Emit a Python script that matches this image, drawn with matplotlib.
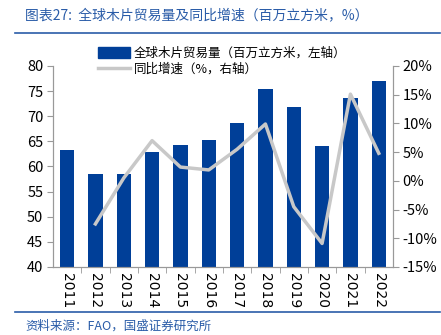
import matplotlib.pyplot as plt
from matplotlib.lines import Line2D

plt.rcParams['font.family'] = ['Noto Sans CJK SC', 'DejaVu Sans']

years = ['2011', '2012', '2013', '2014', '2015', '2016',
         '2017', '2018', '2019', '2020', '2021', '2022']
volume = [63.3, 58.5, 58.6, 62.8, 64.2, 65.3, 68.7, 75.4, 71.9, 64.1, 73.6, 77.1]
growth_years = years[1:]
growth = [-7.5, 0.5, 7.0, 2.4, 1.9, 5.5, 9.9, -4.5, -10.9, 15.1, 4.8]

bar_color = '#003F98'
line_color = '#C8C8C8'
spine_color = '#999999'
title_color = '#2A5CA8'

fig = plt.figure(figsize=(4.41, 3.35), dpi=100)
ax = fig.add_axes([0.120, 0.203, 0.771, 0.600])
ax2 = ax.twinx()

x = list(range(len(years)))
ax.bar(x, volume, width=0.5, color=bar_color, zorder=2)
gx = [years.index(y) for y in growth_years]
ax2.plot(gx, growth, color=line_color, linewidth=2.5, zorder=3)

ax.set_xlim(-0.5, len(years) - 0.5)
ax.set_ylim(40, 80)
ax.set_yticks(range(40, 81, 5))
ax2.set_ylim(-15, 20)
ax2.set_yticks(range(-15, 21, 5))
ax2.set_yticklabels([f'{v}%' for v in range(-15, 21, 5)])

ax.set_xticks(x)
ax.set_xticklabels(years, rotation=-90, fontsize=10, family='DejaVu Sans')
ax.set_xticks([i + 0.5 for i in x[:-1]], minor=True)
ax.tick_params(axis='x', which='major', length=0, pad=4)
ax.tick_params(axis='x', which='minor', length=4, color=spine_color, direction='out')
ax.tick_params(axis='y', length=4, color=spine_color, labelsize=10.5, pad=3)
ax2.tick_params(axis='y', length=4, color=spine_color, labelsize=10.5, pad=3)

for a in (ax, ax2):
    a.spines['top'].set_visible(False)
    for s in ('left', 'right', 'bottom'):
        a.spines[s].set_color(spine_color)
        a.spines[s].set_linewidth(0.8)
ax2.set_zorder(ax.get_zorder() + 1)
ax2.patch.set_visible(False)

handles = [plt.Rectangle((0, 0), 1, 1, color=bar_color),
           Line2D([0], [0], color=line_color, linewidth=2.5)]
labels = ['全球木片贸易量（百万立方米，左轴）', '同比增速（%，右轴）']
fig.legend(handles, labels, loc='upper left', bbox_to_anchor=(0.21, 0.875),
           frameon=False, fontsize=9, handlelength=2.6, handleheight=0.9,
           handletextpad=0.3, labelspacing=0.25, borderaxespad=0)

# title, rules and source note
fig.text(0.057, 0.955, '图表27:  全球木片贸易量及同比增速（百万立方米，%）',
         color=title_color, fontsize=10, style='italic', va='center')
fig.add_artist(Line2D([0.034, 0.998], [0.902, 0.902], color=title_color, linewidth=1.2))
fig.add_artist(Line2D([0.034, 0.998], [0.070, 0.070], color=title_color, linewidth=1.2))
fig.text(0.057, 0.027, '资料来源：FAO，国盛证券研究所', color=title_color,
         fontsize=9, style='italic', va='center')

fig.savefig('out.png', dpi=100)
